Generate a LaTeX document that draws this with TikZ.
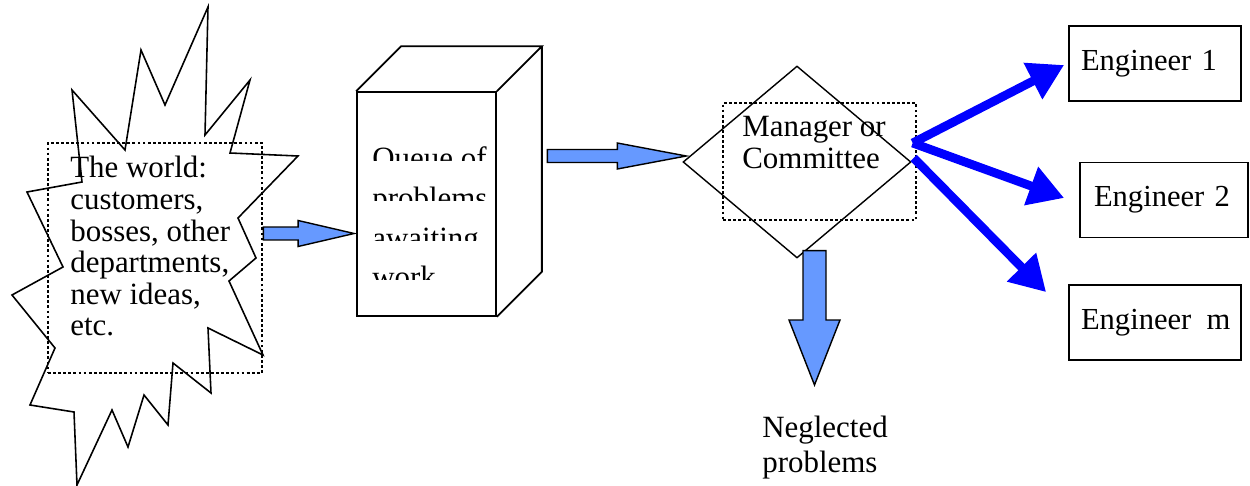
\documentclass[tikz,border=0pt]{standalone}
\usepackage{fontspec}
\setmainfont{Liberation Serif}
\usetikzlibrary{calc,shapes.geometric,arrows.meta}
\definecolor{bleuclair}{RGB}{102,153,255}

%\flechebloc{depart}{pointe}{demi fut}{demi tete}{longueur tete}
\newcommand{\flechebloc}[5]{%
  \coordinate (fb) at ($(#2)!#5!(#1)$);
  \draw[blocarrow]
    ($(#1)!#3!90:(#2)$) -- ($(fb)!#3!-90:(#1)$) -- ($(fb)!#4!-90:(#1)$)
    -- (#2) -- ($(fb)!#4!90:(#1)$) -- ($(fb)!#3!90:(#1)$)
    -- ($(#1)!#3!-90:(#2)$) -- cycle;}

\begin{document}
\begin{tikzpicture}[x=0.02cm,y=-0.02cm,
  texte/.style={font=\fontsize{17.6}{18}\selectfont,inner sep=0pt,align=left},
  pointille/.style={draw,line width=1.6pt,dash pattern=on 1.6pt off 1.3pt},
  ingenieur/.style={draw,line width=1pt,minimum height=1.5cm,align=left,
    font=\fontsize{17.4}{18}\selectfont},
  blocarrow/.style={draw,line width=0.8pt,fill=bleuclair,line join=miter},
  bleuarrow/.style={draw=blue,line width=5pt,-{Triangle[length=20pt,width=22pt]}}]
\useasboundingbox (0,0) rectangle (1250,486);

%le monde : etoile, cadre pointille et texte
\draw[line width=0.9pt,line join=miter] (208,7) -- (205,135) -- (250,80) -- (230,153) -- (298,156)
  -- (238,218) -- (256,258) -- (229,281) -- (263,355) -- (208,328) -- (211,393)
  -- (173,363) -- (168,425) -- (144,395) -- (128,447) -- (112,410) -- (77,485)
  -- (74,412) -- (30,405) -- (55,348) -- (12,295) -- (63,267) -- (27,192)
  -- (82,182) -- (72,90) -- (125,150) -- (141,50) -- (165,105) -- cycle;
\node (world) at (155,258) [pointille,minimum width=4.28cm,minimum height=4.6cm] {};
\node (world text) at (70,156) [texte,anchor=north west] {The world:\\customers,\\bosses, other\\departments,\\new ideas,\\etc.};

%la file : boite en 3D
\node (queue) at (426.5,204) [draw,line width=1pt,minimum width=2.78cm,minimum height=4.48cm] {};
\draw[line width=1pt,line join=miter] (queue.north west) -- ++(45,-45) -- ($(queue.north east)+(45,-45)$)
  -- (queue.north east) (queue.south east) -- ($(queue.south east)+(45,-45)$)
  -- ($(queue.north east)+(45,-45)$);
\foreach \ligne/\yb [count=\i] in {Queue of/169,problems/209,awaiting/248,work/287}{
  \begin{scope}
    \clip (360,\yb-40) rectangle (494,\yb-8);
    \node (queue line \i) at (372,\yb) [texte,anchor=base west] {\ligne};
  \end{scope}}

%le manager
\node (mgr) at (797,162) [diamond,draw,line width=0.8pt,inner sep=0pt,minimum width=4.56cm,minimum height=3.84cm] {};
\node (mgr box) at (819.5,161.5) [pointille,minimum width=3.86cm,minimum height=2.34cm] {};
\node (mgr text) at (742,116) [texte,anchor=north west,font=\fontsize{17.6}{18.2}\selectfont] {Manager or\\Committee};

%les ingenieurs
\node (eng1) at (1155,63.5) [ingenieur,text width=2.96cm,inner xsep=0.24cm] {Engineer 1};
\node (eng2) at (1164,200) [ingenieur,text width=2.8cm,inner xsep=0.28cm] {Engineer 2};
\node (eng3) at (1155,322.5) [ingenieur,text width=2.96cm,inner xsep=0.24cm] {\mbox{Engineer\hspace{0.5em}m}};

\node (neg) at (762,416) [texte,anchor=north west,font=\fontsize{17.6}{19.9}\selectfont] {Neglected\\problems};

%fleches bleu clair
\coordinate (a1) at ($(world.east)+(0,-24.5)$);
\coordinate (a2) at ($(queue.west)+(-2,29.5)$);
\coordinate (b1) at ($(mgr.west)+(-135,-6)$);
\coordinate (b2) at ($(mgr.west)+(4,-6)$);
\coordinate (c1) at ($(mgr.south)+(17.5,-8)$);
\coordinate (c2) at ($(neg.north west)+(52.5,-31)$);
\flechebloc{a1}{a2}{0.13cm}{0.26cm}{1.12cm}
\flechebloc{b1}{b2}{0.13cm}{0.26cm}{1.38cm}
\flechebloc{c1}{c2}{0.23cm}{0.51cm}{1.3cm}

%fleches bleues vers les ingenieurs
\coordinate (fork1) at ($(mgr.east)+(1,-19)$);
\coordinate (fork2) at ($(mgr.east)+(2,-4)$);
\path
  (fork1) edge[bleuarrow] ($(eng1.west)+(-4,1.5)$)
  (fork1) edge[bleuarrow] ($(eng2.west)+(-15,-2)$)
  (fork2) edge[bleuarrow] ($(eng3.north west)+(-22,8)$)
  ;
\end{tikzpicture}
\end{document}
